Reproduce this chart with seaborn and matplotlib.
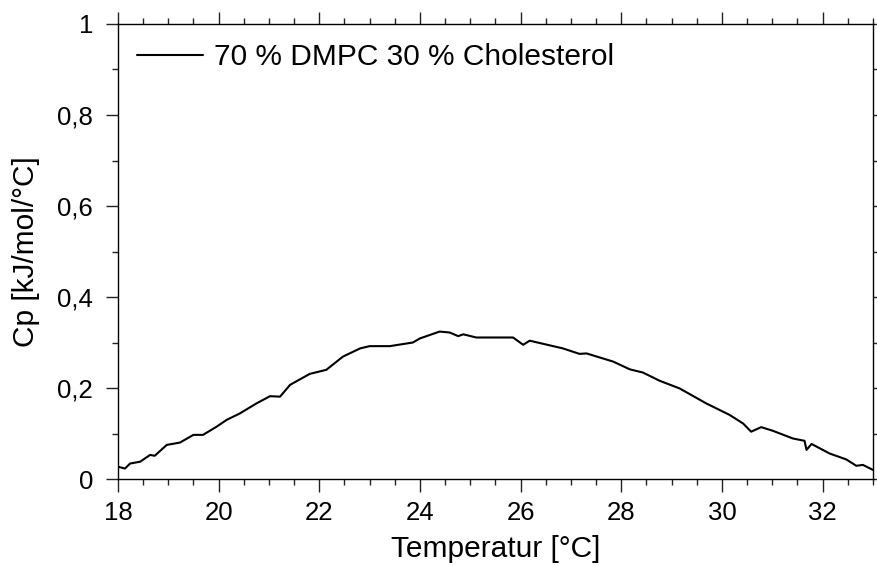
import numpy as np
import pandas as pd
import seaborn as sns
import matplotlib.pyplot as plt
from matplotlib.ticker import MultipleLocator, FuncFormatter

# Werte
temperatur = [18.00, 18.14, 18.24, 18.44, 18.64, 18.73, 18.97, 19.23, 19.50, 19.69,
              19.96, 20.16, 20.42, 20.75, 21.02, 21.22, 21.42, 21.81, 22.14, 22.47,
              22.81, 23.00, 23.40, 23.86, 24.00, 24.39, 24.59, 24.76, 24.86, 25.12,
              25.52, 25.85, 26.05, 26.18, 26.84, 27.17, 27.31, 27.84, 28.17, 28.43,
              28.76, 29.16, 29.69, 30.15, 30.42, 30.58, 30.78, 31.01, 31.41, 31.64,
              31.68, 31.78, 32.14, 32.47, 32.67, 32.80, 33.00]
cp = [0.027, 0.023, 0.034, 0.038, 0.053, 0.051, 0.075, 0.080, 0.097, 0.097,
      0.115, 0.130, 0.144, 0.166, 0.182, 0.181, 0.207, 0.231, 0.240, 0.269,
      0.287, 0.292, 0.292, 0.300, 0.309, 0.324, 0.322, 0.314, 0.318, 0.311,
      0.311, 0.311, 0.295, 0.304, 0.287, 0.275, 0.276, 0.258, 0.241, 0.234,
      0.216, 0.199, 0.166, 0.141, 0.122, 0.104, 0.114, 0.106, 0.089, 0.084,
      0.064, 0.077, 0.056, 0.043, 0.029, 0.031, 0.020]
serie = "70 % DMPC 30 % Cholesterol"

df = pd.DataFrame({"Temperatur": temperatur, "Cp": cp, "Probe": serie})

sns.set_style("ticks")
plt.rcParams["font.family"] = ["Liberation Sans", "DejaVu Sans"]
plt.rcParams["text.color"] = "black"
plt.rcParams["axes.labelcolor"] = "black"
plt.rcParams["xtick.color"] = "black"
plt.rcParams["ytick.color"] = "black"

fig, ax = plt.subplots(figsize=(8.77, 5.66), dpi=100)
fig.subplots_adjust(left=0.1345, right=0.9954, bottom=0.1537, top=0.9576)

sns.lineplot(data=df, x="Temperatur", y="Cp", hue="Probe", palette=["black"],
             linewidth=1.5, ax=ax)

ax.set_xlim(18, 33)
ax.set_ylim(0, 1)
ax.xaxis.set_major_locator(MultipleLocator(2))
ax.xaxis.set_minor_locator(MultipleLocator(0.5))
ax.yaxis.set_major_locator(MultipleLocator(0.2))
ax.yaxis.set_minor_locator(MultipleLocator(0.1))
ax.yaxis.set_major_formatter(FuncFormatter(lambda v, p: f"{v:g}".replace(".", ",")))

for s in ax.spines.values():
    s.set_visible(True)
    s.set_linewidth(1.0)
    s.set_color("black")
ax.tick_params(which="both", direction="out", top=True, right=True,
               labeltop=False, labelright=False, color="#222222", width=1.0)
ax.tick_params(which="major", length=9, labelsize=18.5)
ax.tick_params(axis="x", which="major", pad=7)
ax.tick_params(axis="y", which="major", pad=9)
ax.tick_params(which="minor", length=4.5)

ax.set_xlabel("Temperatur [°C]", fontsize=21.5, labelpad=7)
ax.set_ylabel("Cp [kJ/mol/°C]", fontsize=21.5, labelpad=12)

ax.legend(loc="upper left", frameon=False, fontsize=21.5, handlelength=2.2,
          handletextpad=0.35, borderaxespad=0.25)

plt.savefig("out.png", dpi=100)
